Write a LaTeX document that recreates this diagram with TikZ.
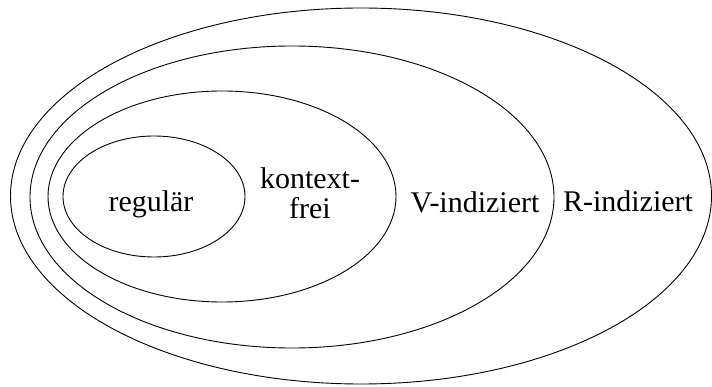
\documentclass[tikz,border=0pt]{standalone}
\usepackage{fontspec}
\setmainfont{Liberation Serif}
\begin{document}
\begin{tikzpicture}[x=1pt,y=-1pt,
  setline/.style={draw=black,line width=0.9pt},
  lbl/.style={font=\fontsize{30}{30}\selectfont,inner sep=0pt,anchor=base}]
\useasboundingbox (0,0) rectangle (712,387);
\draw[setline] (361,196) ellipse [x radius=350.5,y radius=188];
\draw[setline] (292,197) ellipse [x radius=262,y radius=151];
\draw[setline] (222,196.5) ellipse [x radius=174,y radius=105.5];
\draw[setline] (154,196.5) ellipse [x radius=91,y radius=60.5];
\node[lbl] (reg) at (151,212) {regulär};
\node[lbl,align=center,anchor=center] (kf) at (310,193) {kontext-\\frei};
\node[lbl] (vi) at (475,213) {V-indiziert};
\node[lbl] (ri) at (628,212) {R-indiziert};
\end{tikzpicture}
\end{document}
